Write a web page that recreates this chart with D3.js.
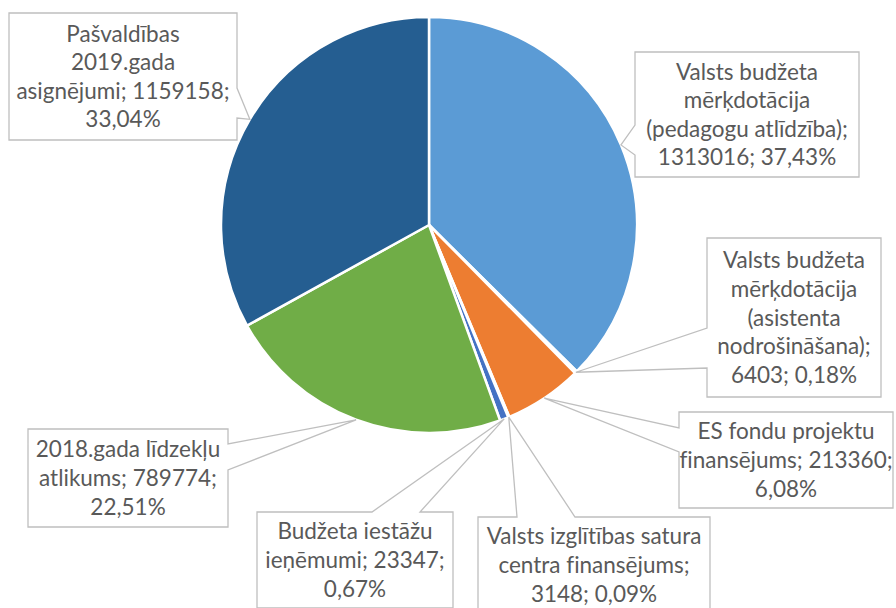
<!DOCTYPE html>
<html>
<head>
<meta charset="utf-8">
<script src="https://cdn.jsdelivr.net/npm/d3@7"></script>
<style>
  body { margin: 0; background: #fff; }
  svg { display: block; }
  text { font-variant-ligatures: none; }
</style>
</head>
<body>
<div id="app"></div>
<script>
// data (clockwise from 12 o'clock)
const categories = [
  "Valsts budžeta mērķdotācija (pedagogu atlīdzība)",
  "Valsts budžeta mērķdotācija (asistenta nodrošināšana)",
  "ES fondu projektu finansējums",
  "Valsts izglītības satura centra finansējums",
  "Budžeta iestāžu ieņēmumi",
  "2018.gada līdzekļu atlikums",
  "Pašvaldības 2019.gada asignējumi"
];
const values = [1313016, 6403, 213360, 3148, 23347, 789774, 1159158];
const percentLabels = ["37,43%", "0,18%", "6,08%", "0,09%", "0,67%", "22,51%", "33,04%"];
const labelLines = [
  ["Valsts budžeta", "mērķdotācija", "(pedagogu atlīdzība);", "1313016; 37,43%"],
  ["Valsts budžeta", "mērķdotācija", "(asistenta", "nodrošināšana);", "6403; 0,18%"],
  ["ES fondu projektu", "finansējums; 213360;", "6,08%"],
  ["Valsts izglītības satura", "centra finansējums;", "3148; 0,09%"],
  ["Budžeta iestāžu", "ieņēmumi; 23347;", "0,67%"],
  ["2018.gada līdzekļu", "atlikums; 789774;", "22,51%"],
  ["Pašvaldības", "2019.gada", "asignējumi; 1159158;", "33,04%"]
];
const colors = ["#5B9BD5", "#A5A5A5", "#ED7D31", "#FFC000", "#4472C4", "#70AD47", "#255E91"];

// callout boxes: [x0, y0, x1, y1], side of the pointer, pointer base along that side
const callouts = [
  { box: [635, 52, 859, 177],  side: "left",  base: [125, 155] },
  { box: [707, 238, 881, 397], side: "left",  base: [328, 368] },
  { box: [679, 412, 893, 508], side: "left",  base: [428, 452] },
  { box: [478, 517, 710, 613], side: "top",   base: [517, 575] },
  { box: [257, 512, 453, 608], side: "top",   base: [372, 420] },
  { box: [28, 429, 228, 527],  side: "right", base: [444, 470] },
  { box: [9, 13, 237, 140],    side: "right", base: [88, 118] }
];

const width = 896, height = 608;
const cx = 429, cy = 225, radius = 208;
const lineHeight = 28.6;

const svg = d3.select("#app")
  .append("svg")
    .attr("width", width)
    .attr("height", height);

const data = categories.map((c, i) => ({ name: c, value: values[i], i: i }));

const pie = d3.pie()
  .value(d => d.value)
  .sort(null);

const arc = d3.arc()
  .innerRadius(0)
  .outerRadius(radius);

const arcs = pie(data);

const g = svg.append("g")
  .attr("transform", "translate(" + cx + "," + cy + ")");

g.selectAll("path")
  .data(arcs)
  .enter()
  .append("path")
    .attr("d", arc)
    .attr("fill", d => colors[d.data.i])
    .attr("stroke", "#fff")
    .attr("stroke-width", 2.5)
    .attr("stroke-linejoin", "round");

// tip of each callout sits on the rim at the slice's mid angle
const tipOf = d => {
  const a = (d.startAngle + d.endAngle) / 2;
  return [cx + radius * Math.sin(a), cy - radius * Math.cos(a)];
};

const calloutPath = (c, tip) => {
  const [x0, y0, x1, y1] = c.box;
  const [b0, b1] = c.base;
  let pts;
  if (c.side === "left") {
    pts = [[x0, y0], [x1, y0], [x1, y1], [x0, y1], [x0, b1], tip, [x0, b0]];
  } else if (c.side === "right") {
    pts = [[x0, y0], [x1, y0], [x1, b0], tip, [x1, b1], [x1, y1], [x0, y1]];
  } else {
    pts = [[x0, y0], [b0, y0], tip, [b1, y0], [x1, y0], [x1, y1], [x0, y1]];
  }
  return "M" + pts.map(p => p[0] + "," + p[1]).join("L") + "Z";
};

const labels = svg.append("g")
  .selectAll("g")
  .data(arcs)
  .enter()
  .append("g");

labels.append("path")
  .attr("d", d => calloutPath(callouts[d.data.i], tipOf(d)))
  .attr("fill", "#fff")
  .attr("stroke", "#BFBFBF")
  .attr("stroke-width", 1.3);

labels.each(function(d) {
  const c = callouts[d.data.i];
  const lines = labelLines[d.data.i];
  const mx = (c.box[0] + c.box[2]) / 2;
  const my = (c.box[1] + c.box[3]) / 2;
  const first = my - (lines.length - 1) / 2 * lineHeight + 8;
  d3.select(this).append("text")
    .attr("text-anchor", "middle")
    .attr("font-family", "Lato, 'Open Sans', sans-serif")
    .attr("font-size", 22.5)
    .attr("fill", "#595959")
    .selectAll("tspan")
    .data(lines)
    .enter()
    .append("tspan")
      .attr("x", mx)
      .attr("y", (l, k) => first + k * lineHeight)
      .text(l => l);
});
</script>
</body>
</html>
